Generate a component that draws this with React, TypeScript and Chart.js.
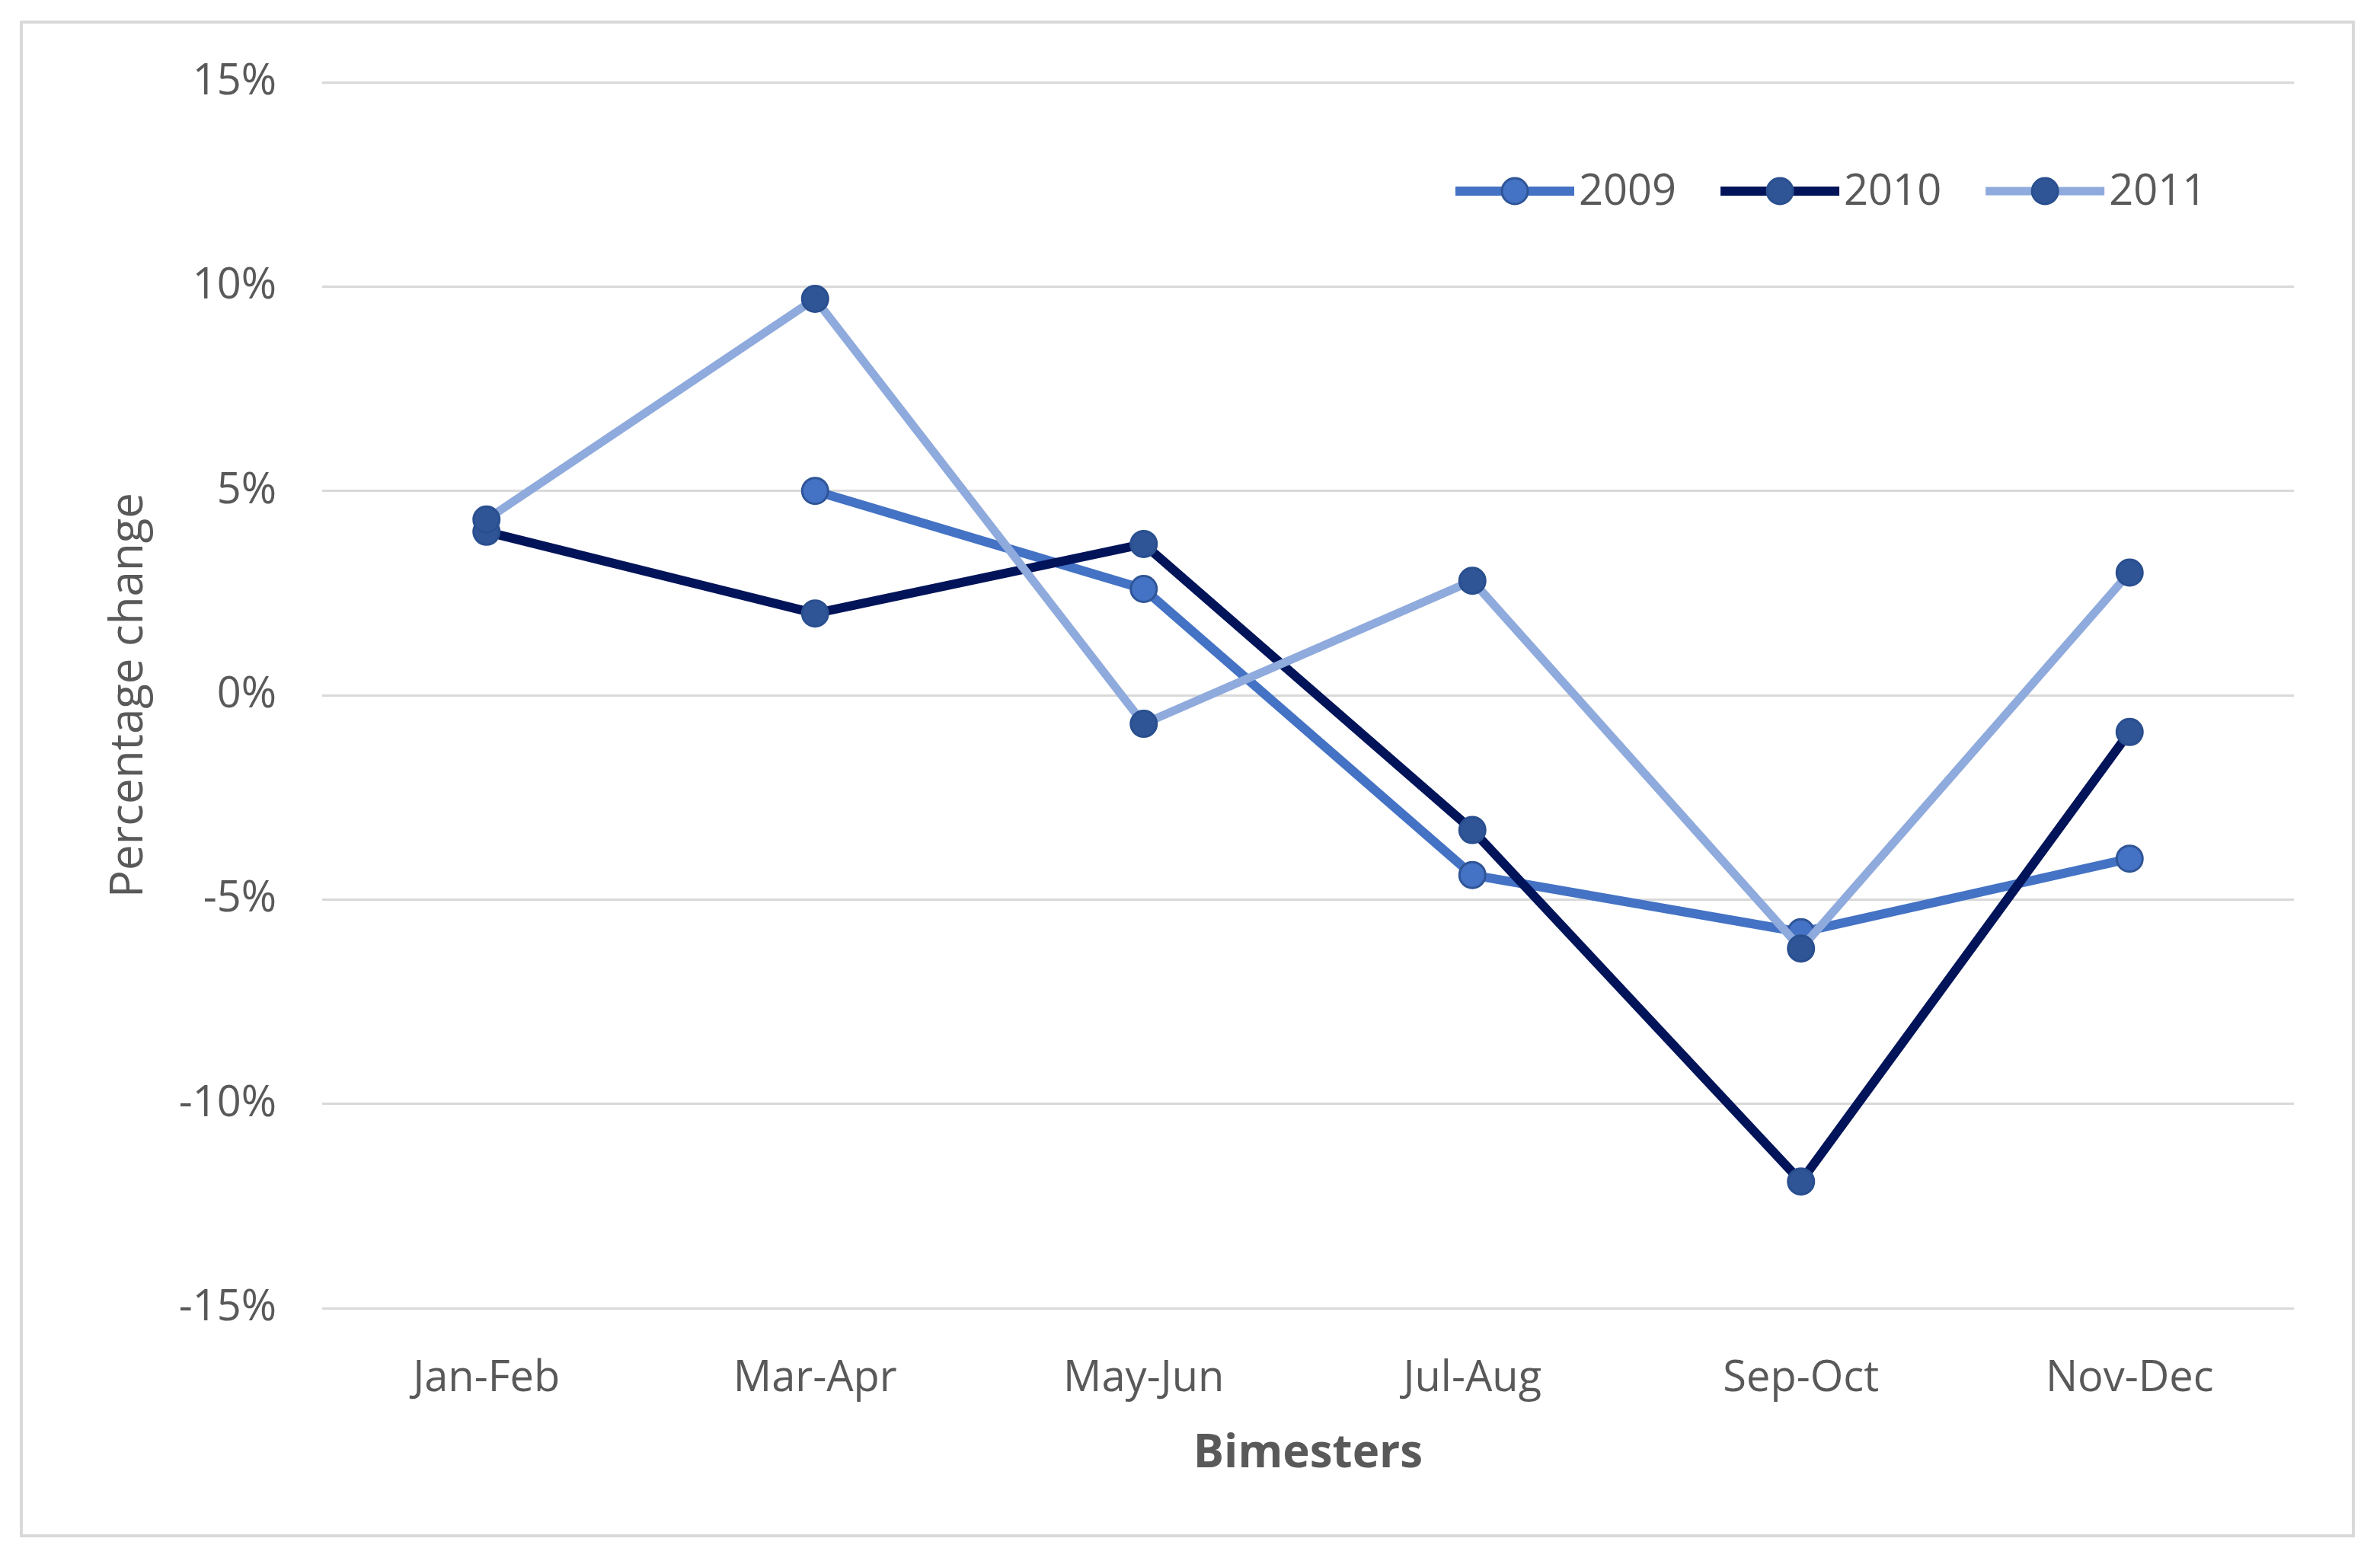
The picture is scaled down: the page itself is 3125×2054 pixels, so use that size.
import React, { useEffect, useRef } from 'react';
import { Chart, registerables } from 'chart.js';

Chart.register(...registerables);

const categories = ['Jan-Feb', 'Mar-Apr', 'May-Jun', 'Jul-Aug', 'Sep-Oct', 'Nov-Dec'];
const seriesLabels = ['2009', '2010', '2011'];
const values2009 = [null, 5.0, 2.6, -4.4, -5.8, -4.0];
const values2010 = [4.0, 2.0, 3.7, -3.3, -11.9, -0.9];
const values2011 = [4.3, 9.7, -0.7, 2.8, -6.2, 3.0];
const yMin = -15;
const yMax = 15;
const yStep = 5;

const FONT = '"Open Sans", "Liberation Sans", sans-serif';
const TEXT = '#595959';

const framePlugin = {
  id: 'frame',
  beforeDraw(chart: any) {
    const ctx = chart.ctx;
    ctx.save();
    ctx.fillStyle = '#ffffff';
    ctx.fillRect(0, 0, chart.width, chart.height);
    ctx.strokeStyle = '#d9d9d9';
    ctx.lineWidth = 4;
    ctx.strokeRect(28, 29, 3062, 1988);
    ctx.restore();
  },
};

const legendPlugin = {
  id: 'insideLegend',
  afterDatasetsDraw(chart: any) {
    const ctx = chart.ctx;
    ctx.save();
    ctx.font = `56px ${FONT}`;
    ctx.textBaseline = 'middle';
    ctx.textAlign = 'left';
    let x = 1911;
    const y = 251;
    const lineLen = 156;
    chart.data.datasets.forEach((ds: any) => {
      ctx.strokeStyle = ds.borderColor;
      ctx.lineWidth = ds.borderWidth;
      ctx.beginPath();
      ctx.moveTo(x, y);
      ctx.lineTo(x + lineLen, y);
      ctx.stroke();
      ctx.beginPath();
      ctx.arc(x + lineLen / 2, y, ds.pointRadius, 0, Math.PI * 2);
      ctx.fillStyle = ds.pointBackgroundColor;
      ctx.fill();
      ctx.lineWidth = ds.pointBorderWidth;
      ctx.strokeStyle = ds.pointBorderColor;
      ctx.stroke();
      ctx.fillStyle = TEXT;
      ctx.fillText(ds.label, x + lineLen + 6, y + 2);
      const w = ctx.measureText(ds.label).width;
      x += lineLen + 6 + w + 58;
    });
    ctx.restore();
  },
};

export default function App() {
  const ref = useRef<HTMLCanvasElement>(null);
  useEffect(() => {
    const chart = new Chart(ref.current as HTMLCanvasElement, {
      type: 'line',
      data: {
        labels: categories,
        datasets: [
          {
            label: seriesLabels[0],
            data: values2009,
            borderColor: '#4472C4',
            borderWidth: 12,
            pointRadius: 17,
            pointHoverRadius: 17,
            pointBackgroundColor: '#4472C4',
            pointBorderColor: '#2F5597',
            pointBorderWidth: 3,
            tension: 0,
            order: 3,
          },
          {
            label: seriesLabels[1],
            data: values2010,
            borderColor: '#021459',
            borderWidth: 12,
            pointRadius: 17,
            pointHoverRadius: 17,
            pointBackgroundColor: '#2F5597',
            pointBorderColor: '#2A4F8F',
            pointBorderWidth: 3,
            tension: 0,
            order: 2,
          },
          {
            label: seriesLabels[2],
            data: values2011,
            borderColor: '#8FAADC',
            borderWidth: 11,
            pointRadius: 17,
            pointHoverRadius: 17,
            pointBackgroundColor: '#2F5597',
            pointBorderColor: '#2A4F8F',
            pointBorderWidth: 3,
            tension: 0,
            order: 1,
          },
        ],
      },
      options: {
        animation: false,
        responsive: false,
        devicePixelRatio: 1,
        layout: { padding: { left: 0, right: 113, top: 108, bottom: 0 } },
        plugins: {
          legend: { display: false },
          tooltip: { enabled: false },
        },
        scales: {
          x: {
            type: 'category',
            offset: true,
            grid: { display: false },
            border: { display: false },
            ticks: {
              color: TEXT,
              font: { family: FONT, size: 56 },
              padding: 51,
              maxRotation: 0,
            },
            title: {
              display: true,
              text: 'Bimesters',
              color: TEXT,
              font: { family: FONT, size: 60, weight: 'bold' },
              padding: { top: 0, bottom: 108 },
            },
            afterFit: (s: any) => {
              s.height = 336;
            },
          },
          y: {
            min: yMin,
            max: yMax,
            grid: { color: '#d9d9d9', lineWidth: 3, drawTicks: false },
            border: { display: false },
            ticks: {
              stepSize: yStep,
              color: TEXT,
              font: { family: FONT, size: 56 },
              padding: 60,
              callback: (v: any) => `${v}%`,
            },
            title: {
              display: true,
              text: 'Percentage change',
              color: TEXT,
              font: { family: FONT, size: 60 },
              padding: { top: 134, bottom: 0 },
            },
            afterFit: (s: any) => {
              s.width = 423;
            },
          },
        },
      },
      plugins: [framePlugin, legendPlugin],
    } as any);
    return () => chart.destroy();
  }, []);
  return (
    <div style={{ position: 'fixed', left: 0, top: 0, width: 3125, height: 2054, background: '#fff' }}>
      <canvas ref={ref} width={3125} height={2054} style={{ display: 'block', width: 3125, height: 2054 }} />
    </div>
  );
}
